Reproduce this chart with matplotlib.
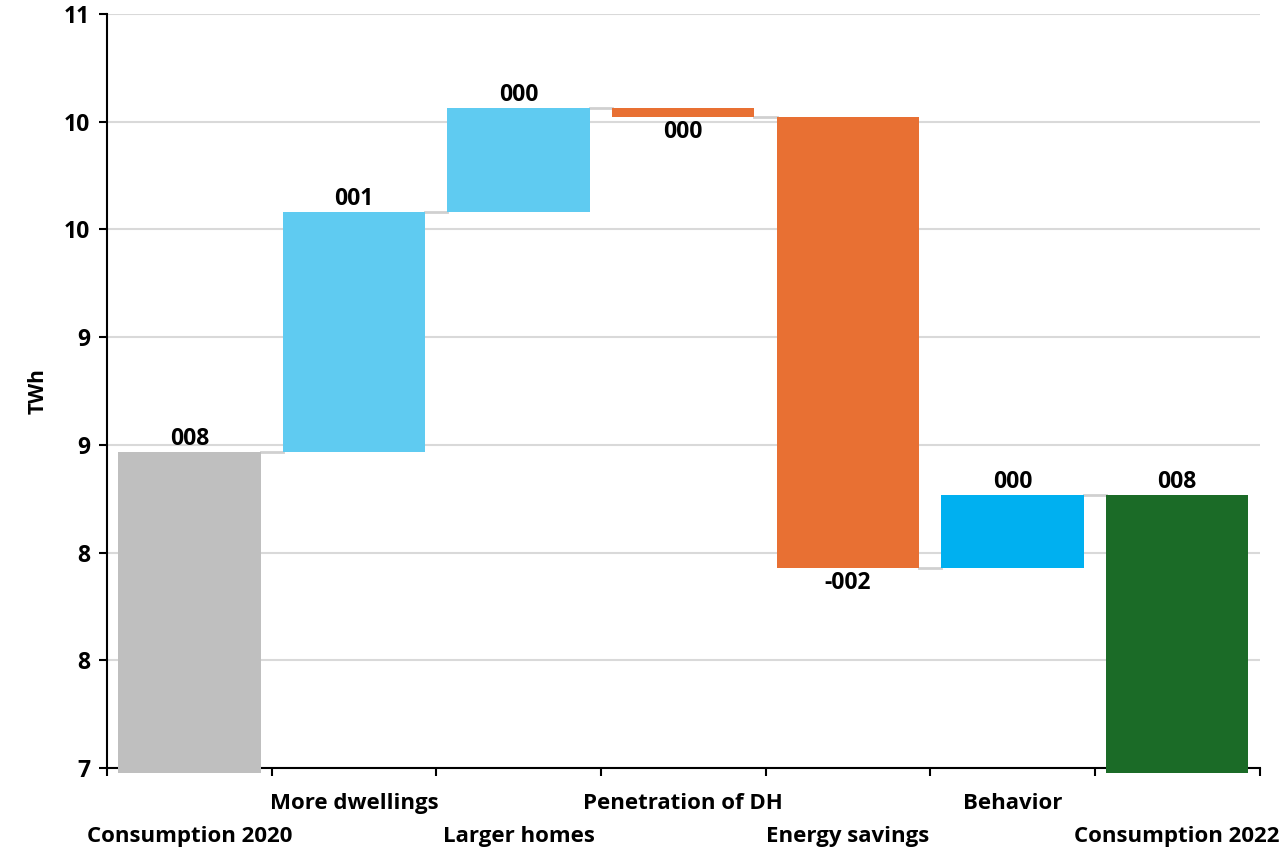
import matplotlib.pyplot as plt
import matplotlib.transforms as mtransforms
import numpy as np

categories = ["Consumption 2020", "More dwellings", "Larger homes", "Penetration of DH",
              "Energy savings", "Behavior", "Consumption 2022"]
start_total = 8.676
changes = [1.274, 0.551, -0.047, -2.393, 0.387]
value_labels = ["008", "001", "000", "000", "-002", "000", "008"]
colors = ["#BFBFBF", "#5FCBF1", "#5FCBF1", "#E87033", "#E87033", "#00B0F0", "#1B6B27"]

ymin, ymax = 7, 11
yticks = np.linspace(ymin, ymax, 8)

plt.rcParams['font.family'] = ['Open Sans', 'DejaVu Sans']
plt.rcParams['font.weight'] = 'bold'

fig = plt.figure(figsize=(12.8, 8.49), dpi=100)
ax = fig.add_axes([0.0836, 0.0954, 0.9004, 0.8881])

x = np.arange(len(categories))
width = 0.865

# running levels
levels = [start_total]
for d in changes:
    levels.append(levels[-1] + d)
end_total = levels[-1]

floor = ymin - 0.025  # totals reach slightly below the axis line
bottoms = [floor]
heights = [start_total - floor]
for i, d in enumerate(changes):
    bottoms.append(min(levels[i], levels[i + 1]))
    heights.append(abs(d))
bottoms.append(floor)
heights.append(end_total - floor)

ax.bar(x, heights, bottom=bottoms, width=width, color=colors, zorder=3, clip_on=False)

# connectors between bars
for i in range(len(levels)):
    ax.plot([x[i] + width / 2, x[i + 1] - width / 2], [levels[i], levels[i]],
            color="#D0D0D0", lw=2, zorder=2)

# value labels
for i in range(len(categories)):
    top = bottoms[i] + heights[i]
    if i in (0, len(categories) - 1) or changes[i - 1] >= 0:
        ax.annotate(value_labels[i], (x[i], top), xytext=(0, 1), textcoords="offset points",
                    ha="center", va="bottom", fontsize=16.5, fontweight="bold")
    else:
        ax.annotate(value_labels[i], (x[i], bottoms[i]), xytext=(0, -2), textcoords="offset points",
                    ha="center", va="top", fontsize=16.5, fontweight="bold")

ax.set_xlim(-0.5, len(categories) - 0.5)
ax.set_ylim(ymin, ymax)
ax.set_yticks(yticks)
ax.set_yticklabels([f"{v:.0f}" for v in yticks], fontsize=16.5, fontweight="bold")
ax.yaxis.grid(True, color="#D9D9D9", lw=1.5, zorder=0)
ax.set_axisbelow(True)
ax.set_ylabel("TWh", fontsize=15, fontweight="bold", labelpad=11)

# category ticks sit at the bar boundaries
ax.set_xticks(np.arange(len(categories) + 1) - 0.5)
ax.set_xticklabels([])
ax.tick_params(axis="x", length=6, width=1.5)
ax.tick_params(axis="y", length=6, width=1.5, pad=6)

# category names in two staggered rows
trans = mtransforms.blended_transform_factory(ax.transData, ax.transAxes)
for i, name in enumerate(categories):
    yrow = -0.047 if i % 2 else -0.091
    ax.text(x[i], yrow, name, transform=trans, ha="center", va="center",
            fontsize=16, fontweight="bold", clip_on=False)

for side in ("top", "right"):
    ax.spines[side].set_visible(False)
ax.spines["left"].set_linewidth(1.5)
ax.spines["bottom"].set_linewidth(1.5)

plt.savefig("out.png", dpi=100)
